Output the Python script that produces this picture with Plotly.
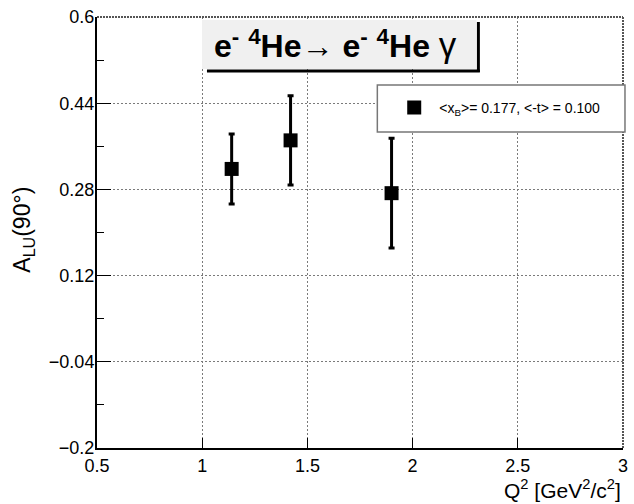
import plotly.graph_objects as go

# Data
q2 = [1.14, 1.42, 1.90]
alu = [0.318, 0.371, 0.273]
alu_err = [0.065, 0.083, 0.102]
series_name = "&lt;x<sub>B</sub>&gt;= 0.177, &lt;-t&gt; = 0.100"

x_tickvals = [0.5, 1, 1.5, 2, 2.5, 3]
x_ticktext = ["0.5", "1", "1.5", "2", "2.5", "3"]
y_tickvals = [-0.2, -0.04, 0.12, 0.28, 0.44, 0.6]
y_ticktext = ["\u22120.2", "\u22120.04", "0.12", "0.28", "0.44", "0.6"]
y_minor = [-0.12, 0.04, 0.2, 0.36, 0.52]

FONT = "Liberation Sans, Arial, Helvetica, sans-serif"

fig = go.Figure()
fig.add_trace(go.Scatter(
    x=q2, y=alu, mode="markers", name=series_name,
    marker=dict(symbol="square", size=14, color="black"),
    error_y=dict(type="data", array=alu_err, visible=True, color="black", thickness=3, width=3),
))

L, R, T, B = 97, 6, 17, 56
W, H = 634, 504
pw, ph = W - L - R, H - T - B

def px(xp):
    return (xp - L) / pw

def py(yp):
    return (H - B - yp) / ph

GRID = "#7a7a7a"
shapes = [
    dict(type="line", xref="paper", yref="paper", x0=0, x1=1, y0=1, y1=1,
         line=dict(color="#555555", width=2, dash="2px,1px")),
    dict(type="line", xref="paper", yref="paper", x0=1, x1=1, y0=0, y1=1,
         line=dict(color="#555555", width=2, dash="2px,1px")),
    dict(type="line", xref="paper", yref="paper", x0=px(482), x1=px(482), y0=py(22), y1=py(72),
         line=dict(color="black", width=3)),
    dict(type="line", xref="paper", yref="paper", x0=px(208), x1=px(483.5), y0=py(71), y1=py(71),
         line=dict(color="black", width=3)),
    dict(type="rect", xref="paper", yref="paper", x0=px(203), x1=px(480), y0=py(69), y1=py(20),
         fillcolor="#f0f0f0", line=dict(width=0)),
    dict(type="rect", xref="paper", yref="paper", x0=px(380), x1=px(630), y0=py(132), y1=py(85),
         fillcolor="white", line=dict(color="#777777", width=1.5)),
]

annotations = [
    dict(text="<b>e<sup>-</sup> <sup>4</sup>He\u2192 e<sup>-</sup> <sup>4</sup>He</b> <span style='font-size:35px'>\u03b3</span>",
         xref="paper", yref="paper", x=px(338), y=py(44), xanchor="center", yanchor="middle",
         showarrow=False, font=dict(family=FONT, size=32, color="black")),
    dict(text="A<sub>LU</sub>(90\u00b0)", xref="paper", yref="paper", x=px(22), y=py(230),
         xanchor="center", yanchor="middle", textangle=-90, showarrow=False,
         font=dict(family=FONT, size=23, color="black")),
    dict(text="Q<sup>2</sup> [GeV<sup>2</sup>/c<sup>2</sup>]", xref="paper", yref="paper",
         x=1.0, y=py(489), xanchor="right", yanchor="middle", showarrow=False,
         font=dict(family=FONT, size=21, color="black")),
]

fig.update_layout(
    width=W, height=H,
    margin=dict(l=L, r=R, t=T, b=B),
    paper_bgcolor="white", plot_bgcolor="white",
    font=dict(family=FONT, size=18, color="black"),
    showlegend=True,
    legend=dict(x=px(392), y=py(108), xanchor="left", yanchor="middle",
                bgcolor="rgba(0,0,0,0)", borderwidth=0, itemwidth=40,
                font=dict(family=FONT, size=14, color="black")),
    shapes=shapes,
    annotations=annotations,
    xaxis=dict(range=[0.5, 3], tickvals=x_tickvals, ticktext=x_ticktext,
               tickfont=dict(family=FONT, size=18, color="black"),
               showgrid=True, gridcolor=GRID, griddash="2px,2px", gridwidth=1,
               showline=True, linecolor="black", linewidth=2, mirror=False,
               ticks="inside", ticklen=10, tickcolor="black", zeroline=False),
    yaxis=dict(range=[-0.2, 0.6], tickvals=y_tickvals, ticktext=y_ticktext,
               tickfont=dict(family=FONT, size=18, color="black"),
               ticklabelstandoff=-3,
               showgrid=True, gridcolor=GRID, griddash="2px,2px", gridwidth=1,
               showline=True, linecolor="black", linewidth=2, mirror=False,
               ticks="inside", ticklen=14, tickcolor="black", zeroline=False,
               minor=dict(ticks="inside", ticklen=7, tickvals=y_minor,
                          tickcolor="black", showgrid=False)),
)

fig.write_html("out.html")
